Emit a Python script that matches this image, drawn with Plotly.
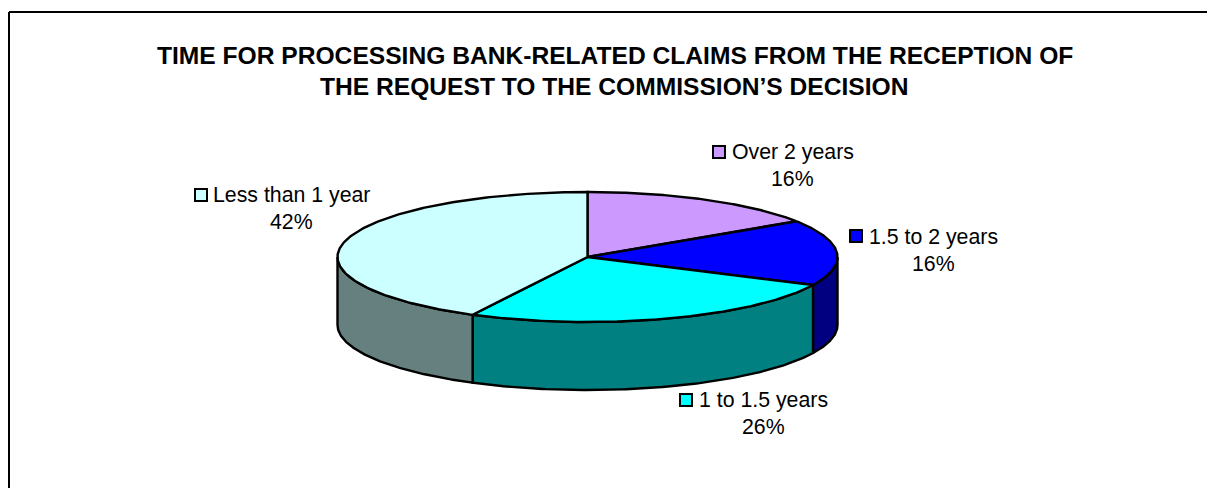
import numpy as np
import plotly.graph_objects as go

# --- data ---
categories = ["Over 2 years", "1.5 to 2 years", "1 to 1.5 years", "Less than 1 year"]
values = [15.7, 16.4, 25.5, 42.4]
percent_labels = ["16%", "16%", "26%", "42%"]
title_lines = ["TIME FOR PROCESSING BANK-RELATED CLAIMS FROM THE RECEPTION OF",
               "THE REQUEST TO THE COMMISSION\u2019S DECISION"]

# --- style / layout ---
top_colors = ["#CC99FF", "#0000FF", "#00FFFF", "#CCFFFF"]
side_colors = ["#664D80", "#000080", "#008080", "#668080"]
W, H = 1207, 488
CX, CY, RX, RY, DEPTH = 587.5, 257, 250, 65, 68
FONT = "Liberation Sans"
LABEL_SIZE = 21.3
# text centre x, first line y, second line y, key x, key y
label_pos = [(792.5, 152, 179, 719, 152),
             (933, 237, 263.5, 856, 236),
             (763, 400, 427, 686, 400),
             (291, 195, 222, 201, 195)]

fig = go.Figure()
fractions = np.cumsum([0] + values) / sum(values) * 2 * np.pi


def ellipse(t, dy=0.0):
    return CX + RX * np.sin(t), CY - RY * np.cos(t) + dy


# side walls (only the front half of the disc is visible)
for i in range(len(values)):
    a = max(fractions[i], np.pi / 2)
    b = min(fractions[i + 1], 3 * np.pi / 2)
    if b <= a:
        continue
    t = np.linspace(a, b, 120)
    x1, y1 = ellipse(t)
    x2, y2 = ellipse(t[::-1], DEPTH)
    fig.add_trace(go.Scatter(
        x=np.r_[x1, x2, x1[0]], y=np.r_[y1, y2, y1[0]], mode="lines", fill="toself",
        fillcolor=side_colors[i], line=dict(color="black", width=2.4),
        hoverinfo="skip", showlegend=False))

# top slices
for i in range(len(values)):
    t = np.linspace(fractions[i], fractions[i + 1], 200)
    x, y = ellipse(t)
    fig.add_trace(go.Scatter(
        x=np.r_[CX, x, CX], y=np.r_[CY, y, CY], mode="lines", fill="toself",
        fillcolor=top_colors[i], line=dict(color="black", width=2.4),
        hoverinfo="skip", showlegend=False))

# legend keys
fig.add_trace(go.Scatter(
    x=[p[3] for p in label_pos], y=[p[4] for p in label_pos], mode="markers",
    marker=dict(symbol="square", size=12, color=top_colors, line=dict(color="black", width=2)),
    hoverinfo="skip", showlegend=False))

annotations = []
for name, pct, p in zip(categories, percent_labels, label_pos):
    for txt, yy in ((name, p[1]), (pct, p[2])):
        annotations.append(dict(x=p[0], y=yy, text=txt, showarrow=False, xanchor="center",
                                yanchor="middle", font=dict(family=FONT, size=LABEL_SIZE, color="black")))
for txt, yy in zip(title_lines, (55, 86)):
    annotations.append(dict(x=614.5, y=yy, text="<b>%s</b>" % txt, showarrow=False, xanchor="center",
                            yanchor="middle", font=dict(family=FONT, size=24.6, color="black")))

frame = dict(color="black", width=2)
shapes = [dict(type="line", x0=9, x1=W, y0=12, y1=12, line=frame),
          dict(type="line", x0=9, x1=9, y0=12, y1=H, line=frame)]

fig.update_layout(
    width=W, height=H, margin=dict(l=0, r=0, t=0, b=0),
    paper_bgcolor="white", plot_bgcolor="white",
    xaxis=dict(range=[0, W], visible=False, fixedrange=True),
    yaxis=dict(range=[H, 0], visible=False, fixedrange=True),
    annotations=annotations, shapes=shapes)
fig.write_html("out.html", config={"displayModeBar": False},
               post_script="document.body.style.margin='0';document.body.style.overflow='hidden';")
